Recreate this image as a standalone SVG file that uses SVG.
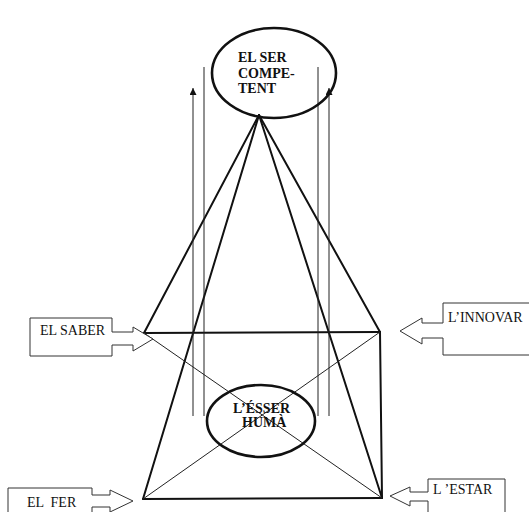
<svg xmlns="http://www.w3.org/2000/svg" width="529" height="512" viewBox="0 0 529 512">
<defs>
<style>
.thick{stroke:#111;stroke-width:2;fill:none;stroke-linecap:round}
.thin{stroke:#222;stroke-width:1;fill:none}
.ell{stroke:#111;stroke-width:2.6;fill:none}
.call{stroke:#333;stroke-width:1;fill:#fff}
.lb{font-family:"Liberation Serif","Times New Roman",serif;font-size:14px;font-weight:bold;fill:#111}
.ct{font-family:"Liberation Serif","Times New Roman",serif;font-size:14px;fill:#111;white-space:pre}
</style>
<marker id="ah" viewBox="0 0 10 10" refX="10" refY="5" markerWidth="11" markerHeight="7" markerUnits="userSpaceOnUse" orient="auto">
<path d="M0,0 L10,5 L0,10 Z" fill="#111"/>
</marker>
</defs>
<rect width="529" height="512" fill="#fff"/>
<g id="connectors">
<line class="thick" x1="259" y1="115" x2="144" y2="333"/>
<line class="thick" x1="259" y1="115" x2="143" y2="499"/>
<line class="thick" x1="259" y1="115" x2="380" y2="332"/>
<line class="thick" x1="259" y1="115" x2="382" y2="498"/>
<line class="thick" x1="144" y1="333" x2="380" y2="332"/>
<line class="thick" x1="143" y1="499" x2="382" y2="498"/>
<line class="thick" x1="380" y1="332" x2="382" y2="498"/>
<line class="thin" x1="144" y1="333" x2="382" y2="498"/>
<line class="thin" x1="380" y1="332" x2="143" y2="499"/>
<line class="thin" x1="193" y1="416" x2="193" y2="88" marker-end="url(#ah)"/>
<line class="thin" x1="204" y1="416" x2="204" y2="67"/>
<line class="thin" x1="318" y1="416" x2="318" y2="67"/>
<line class="thin" x1="329" y1="416" x2="329" y2="88" marker-end="url(#ah)"/>
</g>
<g id="el-ser-competent">
<ellipse class="ell" cx="274" cy="73" rx="62" ry="45"/>
<text class="lb" x="238" y="62">EL SER</text>
<text class="lb" x="238" y="78">COMPE-</text>
<text class="lb" x="238" y="93">TENT</text>
</g>
<g id="esser-huma">
<ellipse class="ell" cx="261" cy="421" rx="54" ry="36"/>
<text class="lb" x="233" y="413">L’ÉSSER</text>
<text class="lb" x="242" y="427">HUMÀ</text>
</g>
<g id="el-saber">
<path class="call" d="M30,318 H112 V332 H133 V327 L153,339 L133,351 V345 H112 V356 H30 Z"/>
<text class="ct" x="40" y="335">EL SABER</text>
</g>
<g id="linnovar">
<path class="call" d="M531,303 H443 V323 H422 V318 L400,331 L422,344 V338 H443 V355 H531"/>
<text class="ct" x="448" y="322">L’INNOVAR</text>
</g>
<g id="el-fer">
<path class="call" d="M8,488 H92 V495 H110 V490 L133,501 L110,512 V507 H92 V520 H8 Z"/>
<text class="ct" x="27" y="507">EL  FER</text>
</g>
<g id="lestar">
<path class="call" d="M505,520 V479 H428 V492 H410 V487 L390,496 L410,506 V501 H428 V520"/>
<text class="ct" x="433" y="494">L ’ESTAR</text>
</g>
</svg>
